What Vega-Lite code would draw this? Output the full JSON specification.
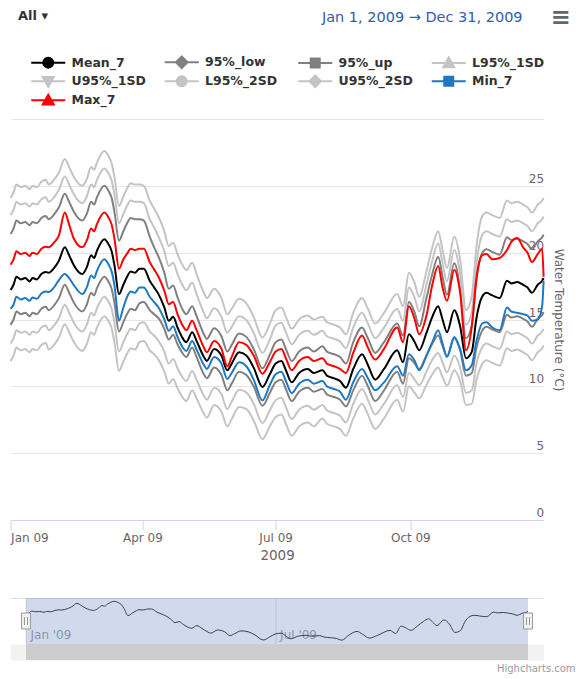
{
  "$schema": "https://vega.github.io/schema/vega-lite/v6.json",
  "padding": {"left": 6.6, "right": 0, "top": 3, "bottom": 0},
  "background": "#ffffff",
  "title": {"text": "≡", "anchor": "end", "frame": "bounds", "offset": -27, "dx": -5, "font": "DejaVu Sans", "fontSize": 24, "fontWeight": "bold", "color": "#666666"},
  "config": {"view": {"stroke": null}, "font": "DejaVu Sans",
    "legend": {"title": "All ▾", "orient": "none", "legendX": 0.4, "legendY": -116, "direction": "horizontal", "columns": 4, "gridAlign": "all", "columnPadding": 5.5, "rowPadding": -1,
      "symbolSize": 100, "symbolStrokeWidth": 2, "symbolOffset": 36, "labelOffset": 5, "labelFont": "DejaVu Sans", "labelFontSize": 12.5, "labelFontWeight": "bold", "labelColor": "#333333", "labelLimit": 200,
      "titleFont": "DejaVu Sans", "titleFontSize": 13, "titleFontWeight": "bold", "titleColor": "#333333", "titlePadding": 33, "padding": 7}},
  "spacing": 35,
  "resolve": {"scale": {"x": "independent", "y": "independent"}},
  "datasets": {
    "range": [{"start": "2009-01-01", "end": "2009-12-31"}],
    "temps": [
      {"d":"2009-01-01","Mean_7":17.2,"Max_7":19.1,"Min_7":15.8,"95%_low":14.6,"95%_up":21.4,"L95%_1SD":13.2,"U95%_1SD":22.8,"L95%_2SD":11.9,"U95%_2SD":24.1},
      {"d":"2009-01-03","Mean_7":17.6,"Max_7":19.5,"Min_7":16.1,"95%_low":15.0,"95%_up":21.8,"L95%_1SD":13.6,"U95%_1SD":23.2,"L95%_2SD":12.3,"U95%_2SD":24.5},
      {"d":"2009-01-05","Mean_7":18.2,"Max_7":20.1,"Min_7":16.7,"95%_low":15.6,"95%_up":22.4,"L95%_1SD":14.2,"U95%_1SD":23.8,"L95%_2SD":12.9,"U95%_2SD":25.1},
      {"d":"2009-01-08","Mean_7":18.0,"Max_7":19.9,"Min_7":16.5,"95%_low":15.4,"95%_up":22.2,"L95%_1SD":14.0,"U95%_1SD":23.6,"L95%_2SD":12.7,"U95%_2SD":24.9},
      {"d":"2009-01-11","Mean_7":18.1,"Max_7":20.0,"Min_7":16.6,"95%_low":15.5,"95%_up":22.3,"L95%_1SD":14.1,"U95%_1SD":23.7,"L95%_2SD":12.8,"U95%_2SD":25.0},
      {"d":"2009-01-14","Mean_7":17.85,"Max_7":19.75,"Min_7":16.4,"95%_low":15.25,"95%_up":22.05,"L95%_1SD":13.85,"U95%_1SD":23.45,"L95%_2SD":12.55,"U95%_2SD":24.75},
      {"d":"2009-01-16","Mean_7":18.1,"Max_7":20.0,"Min_7":16.65,"95%_low":15.5,"95%_up":22.3,"L95%_1SD":14.1,"U95%_1SD":23.7,"L95%_2SD":12.8,"U95%_2SD":25.0},
      {"d":"2009-01-19","Mean_7":18.0,"Max_7":19.9,"Min_7":16.55,"95%_low":15.4,"95%_up":22.2,"L95%_1SD":14.0,"U95%_1SD":23.6,"L95%_2SD":12.7,"U95%_2SD":24.9},
      {"d":"2009-01-22","Mean_7":18.4,"Max_7":20.3,"Min_7":16.95,"95%_low":15.8,"95%_up":22.6,"L95%_1SD":14.4,"U95%_1SD":24.0,"L95%_2SD":13.1,"U95%_2SD":25.3},
      {"d":"2009-01-25","Mean_7":18.55,"Max_7":20.45,"Min_7":17.1,"95%_low":15.95,"95%_up":22.75,"L95%_1SD":14.55,"U95%_1SD":24.15,"L95%_2SD":13.25,"U95%_2SD":25.45},
      {"d":"2009-01-27","Mean_7":18.5,"Max_7":20.4,"Min_7":17.05,"95%_low":15.7,"95%_up":22.5,"L95%_1SD":14.2,"U95%_1SD":23.8,"L95%_2SD":12.75,"U95%_2SD":25.1},
      {"d":"2009-01-31","Mean_7":18.9,"Max_7":20.8,"Min_7":17.45,"95%_low":16.1,"95%_up":22.9,"L95%_1SD":14.6,"U95%_1SD":24.2,"L95%_2SD":13.15,"U95%_2SD":25.5},
      {"d":"2009-02-03","Mean_7":19.4,"Max_7":21.3,"Min_7":17.95,"95%_low":16.6,"95%_up":23.4,"L95%_1SD":15.1,"U95%_1SD":24.7,"L95%_2SD":13.65,"U95%_2SD":26.0},
      {"d":"2009-02-07","Mean_7":20.4,"Max_7":23.0,"Min_7":18.4,"95%_low":17.6,"95%_up":24.4,"L95%_1SD":16.1,"U95%_1SD":25.7,"L95%_2SD":14.65,"U95%_2SD":27.0},
      {"d":"2009-02-10","Mean_7":19.8,"Max_7":22.1,"Min_7":18.1,"95%_low":17.0,"95%_up":23.8,"L95%_1SD":15.5,"U95%_1SD":25.1,"L95%_2SD":14.05,"U95%_2SD":26.4},
      {"d":"2009-02-13","Mean_7":19.1,"Max_7":21.1,"Min_7":17.6,"95%_low":16.3,"95%_up":23.1,"L95%_1SD":14.8,"U95%_1SD":24.4,"L95%_2SD":13.35,"U95%_2SD":25.7},
      {"d":"2009-02-19","Mean_7":18.4,"Max_7":20.4,"Min_7":16.9,"95%_low":15.6,"95%_up":22.4,"L95%_1SD":14.1,"U95%_1SD":23.7,"L95%_2SD":12.65,"U95%_2SD":25.0},
      {"d":"2009-02-22","Mean_7":18.9,"Max_7":20.9,"Min_7":17.4,"95%_low":16.1,"95%_up":22.9,"L95%_1SD":14.6,"U95%_1SD":24.2,"L95%_2SD":13.15,"U95%_2SD":25.5},
      {"d":"2009-02-25","Mean_7":19.8,"Max_7":21.8,"Min_7":18.3,"95%_low":17.0,"95%_up":23.8,"L95%_1SD":15.5,"U95%_1SD":25.1,"L95%_2SD":14.05,"U95%_2SD":26.4},
      {"d":"2009-02-27","Mean_7":19.6,"Max_7":21.6,"Min_7":18.1,"95%_low":16.8,"95%_up":23.6,"L95%_1SD":15.3,"U95%_1SD":24.9,"L95%_2SD":13.85,"U95%_2SD":26.2},
      {"d":"2009-03-01","Mean_7":20.15,"Max_7":22.15,"Min_7":18.65,"95%_low":17.35,"95%_up":24.15,"L95%_1SD":15.85,"U95%_1SD":25.45,"L95%_2SD":14.4,"U95%_2SD":26.75},
      {"d":"2009-03-06","Mean_7":21.0,"Max_7":23.0,"Min_7":19.5,"95%_low":18.2,"95%_up":25.0,"L95%_1SD":16.7,"U95%_1SD":26.3,"L95%_2SD":15.25,"U95%_2SD":27.6},
      {"d":"2009-03-09","Mean_7":20.6,"Max_7":22.6,"Min_7":19.1,"95%_low":17.8,"95%_up":24.6,"L95%_1SD":16.3,"U95%_1SD":25.9,"L95%_2SD":14.85,"U95%_2SD":27.2},
      {"d":"2009-03-11","Mean_7":20.1,"Max_7":22.1,"Min_7":18.6,"95%_low":17.3,"95%_up":24.1,"L95%_1SD":15.8,"U95%_1SD":25.4,"L95%_2SD":14.35,"U95%_2SD":26.7},
      {"d":"2009-03-13","Mean_7":19.0,"Max_7":21.0,"Min_7":17.5,"95%_low":16.2,"95%_up":23.0,"L95%_1SD":14.7,"U95%_1SD":24.3,"L95%_2SD":13.25,"U95%_2SD":25.6},
      {"d":"2009-03-16","Mean_7":16.9,"Max_7":18.8,"Min_7":14.9,"95%_low":14.1,"95%_up":20.9,"L95%_1SD":12.6,"U95%_1SD":22.2,"L95%_2SD":11.15,"U95%_2SD":23.5},
      {"d":"2009-03-19","Mean_7":17.6,"Max_7":19.5,"Min_7":15.9,"95%_low":14.8,"95%_up":21.6,"L95%_1SD":13.3,"U95%_1SD":22.9,"L95%_2SD":11.85,"U95%_2SD":24.2},
      {"d":"2009-03-22","Mean_7":18.3,"Max_7":20.0,"Min_7":16.8,"95%_low":15.5,"95%_up":22.3,"L95%_1SD":14.0,"U95%_1SD":23.6,"L95%_2SD":12.55,"U95%_2SD":24.9},
      {"d":"2009-03-24","Mean_7":18.6,"Max_7":20.3,"Min_7":17.1,"95%_low":15.8,"95%_up":22.6,"L95%_1SD":14.3,"U95%_1SD":23.9,"L95%_2SD":12.85,"U95%_2SD":25.2},
      {"d":"2009-03-27","Mean_7":18.5,"Max_7":20.2,"Min_7":17.0,"95%_low":15.7,"95%_up":22.5,"L95%_1SD":14.2,"U95%_1SD":23.8,"L95%_2SD":12.75,"U95%_2SD":25.1},
      {"d":"2009-03-30","Mean_7":18.8,"Max_7":20.3,"Min_7":17.4,"95%_low":16.2,"95%_up":22.5,"L95%_1SD":14.7,"U95%_1SD":23.8,"L95%_2SD":13.3,"U95%_2SD":25.1},
      {"d":"2009-04-02","Mean_7":18.8,"Max_7":20.3,"Min_7":17.4,"95%_low":16.3,"95%_up":22.4,"L95%_1SD":14.8,"U95%_1SD":23.7,"L95%_2SD":13.4,"U95%_2SD":25.0},
      {"d":"2009-04-06","Mean_7":17.9,"Max_7":19.3,"Min_7":16.7,"95%_low":15.7,"95%_up":21.2,"L95%_1SD":14.1,"U95%_1SD":22.5,"L95%_2SD":12.7,"U95%_2SD":23.9},
      {"d":"2009-04-09","Mean_7":17.4,"Max_7":18.75,"Min_7":16.3,"95%_low":15.4,"95%_up":20.4,"L95%_1SD":13.8,"U95%_1SD":21.9,"L95%_2SD":12.4,"U95%_2SD":23.3},
      {"d":"2009-04-12","Mean_7":16.9,"Max_7":18.2,"Min_7":15.9,"95%_low":15.1,"95%_up":19.7,"L95%_1SD":13.4,"U95%_1SD":21.2,"L95%_2SD":12.0,"U95%_2SD":22.7},
      {"d":"2009-04-16","Mean_7":15.9,"Max_7":17.15,"Min_7":15.0,"95%_low":14.3,"95%_up":18.5,"L95%_1SD":12.6,"U95%_1SD":20.1,"L95%_2SD":11.1,"U95%_2SD":21.6},
      {"d":"2009-04-19","Mean_7":14.9,"Max_7":16.15,"Min_7":14.15,"95%_low":13.5,"95%_up":17.3,"L95%_1SD":11.7,"U95%_1SD":19.0,"L95%_2SD":10.2,"U95%_2SD":20.5},
      {"d":"2009-04-22","Mean_7":15.2,"Max_7":16.3,"Min_7":14.5,"95%_low":13.85,"95%_up":17.55,"L95%_1SD":12.05,"U95%_1SD":19.25,"L95%_2SD":10.55,"U95%_2SD":20.75},
      {"d":"2009-04-25","Mean_7":14.4,"Max_7":15.4,"Min_7":13.7,"95%_low":13.15,"95%_up":16.65,"L95%_1SD":11.35,"U95%_1SD":18.4,"L95%_2SD":9.85,"U95%_2SD":19.9},
      {"d":"2009-04-28","Mean_7":13.7,"Max_7":14.65,"Min_7":13.0,"95%_low":12.55,"95%_up":15.85,"L95%_1SD":10.75,"U95%_1SD":17.65,"L95%_2SD":9.25,"U95%_2SD":19.15},
      {"d":"2009-05-01","Mean_7":13.3,"Max_7":14.2,"Min_7":12.65,"95%_low":12.2,"95%_up":15.4,"L95%_1SD":10.4,"U95%_1SD":17.2,"L95%_2SD":8.9,"U95%_2SD":18.7},
      {"d":"2009-05-05","Mean_7":14.05,"Max_7":14.9,"Min_7":13.4,"95%_low":12.9,"95%_up":16.0,"L95%_1SD":11.15,"U95%_1SD":17.75,"L95%_2SD":9.7,"U95%_2SD":19.25},
      {"d":"2009-05-08","Mean_7":13.4,"Max_7":14.2,"Min_7":12.75,"95%_low":12.2,"95%_up":15.25,"L95%_1SD":10.5,"U95%_1SD":16.9,"L95%_2SD":9.1,"U95%_2SD":18.4},
      {"d":"2009-05-13","Mean_7":12.2,"Max_7":12.9,"Min_7":11.6,"95%_low":10.9,"95%_up":13.9,"L95%_1SD":9.3,"U95%_1SD":15.5,"L95%_2SD":7.95,"U95%_2SD":17.0},
      {"d":"2009-05-15","Mean_7":11.9,"Max_7":12.55,"Min_7":11.3,"95%_low":10.6,"95%_up":13.55,"L95%_1SD":9.0,"U95%_1SD":15.1,"L95%_2SD":7.65,"U95%_2SD":16.6},
      {"d":"2009-05-20","Mean_7":12.8,"Max_7":13.4,"Min_7":12.2,"95%_low":11.4,"95%_up":14.35,"L95%_1SD":9.9,"U95%_1SD":15.85,"L95%_2SD":8.6,"U95%_2SD":17.3},
      {"d":"2009-05-25","Mean_7":12.3,"Max_7":12.8,"Min_7":11.7,"95%_low":10.85,"95%_up":13.75,"L95%_1SD":9.4,"U95%_1SD":15.2,"L95%_2SD":8.1,"U95%_2SD":16.6},
      {"d":"2009-05-29","Mean_7":11.2,"Max_7":11.5,"Min_7":10.55,"95%_low":9.7,"95%_up":12.6,"L95%_1SD":8.3,"U95%_1SD":14.0,"L95%_2SD":7.0,"U95%_2SD":15.4},
      {"d":"2009-06-01","Mean_7":11.7,"Max_7":12.2,"Min_7":11.0,"95%_low":10.2,"95%_up":13.1,"L95%_1SD":8.85,"U95%_1SD":14.45,"L95%_2SD":7.55,"U95%_2SD":15.8},
      {"d":"2009-06-06","Mean_7":12.55,"Max_7":13.3,"Min_7":11.8,"95%_low":11.1,"95%_up":13.95,"L95%_1SD":9.75,"U95%_1SD":15.25,"L95%_2SD":8.45,"U95%_2SD":16.55},
      {"d":"2009-06-11","Mean_7":12.3,"Max_7":13.1,"Min_7":11.5,"95%_low":10.85,"95%_up":13.7,"L95%_1SD":9.55,"U95%_1SD":14.95,"L95%_2SD":8.3,"U95%_2SD":16.2},
      {"d":"2009-06-16","Mean_7":11.4,"Max_7":12.3,"Min_7":10.5,"95%_low":10.0,"95%_up":12.8,"L95%_1SD":8.7,"U95%_1SD":14.0,"L95%_2SD":7.45,"U95%_2SD":15.2},
      {"d":"2009-06-22","Mean_7":9.95,"Max_7":10.95,"Min_7":8.95,"95%_low":8.55,"95%_up":11.35,"L95%_1SD":7.25,"U95%_1SD":12.5,"L95%_2SD":6.05,"U95%_2SD":13.65},
      {"d":"2009-06-27","Mean_7":10.9,"Max_7":11.8,"Min_7":10.1,"95%_low":9.5,"95%_up":12.35,"L95%_1SD":8.2,"U95%_1SD":13.5,"L95%_2SD":7.0,"U95%_2SD":14.65},
      {"d":"2009-07-01","Mean_7":11.7,"Max_7":12.6,"Min_7":10.9,"95%_low":10.3,"95%_up":13.3,"L95%_1SD":8.95,"U95%_1SD":14.55,"L95%_2SD":7.7,"U95%_2SD":15.7},
      {"d":"2009-07-05","Mean_7":11.9,"Max_7":12.8,"Min_7":11.1,"95%_low":10.5,"95%_up":13.5,"L95%_1SD":9.15,"U95%_1SD":14.75,"L95%_2SD":7.9,"U95%_2SD":15.9},
      {"d":"2009-07-08","Mean_7":11.2,"Max_7":12.1,"Min_7":10.4,"95%_low":9.8,"95%_up":12.8,"L95%_1SD":8.45,"U95%_1SD":14.05,"L95%_2SD":7.2,"U95%_2SD":15.2},
      {"d":"2009-07-12","Mean_7":10.3,"Max_7":11.2,"Min_7":9.5,"95%_low":8.9,"95%_up":11.9,"L95%_1SD":7.55,"U95%_1SD":13.15,"L95%_2SD":6.3,"U95%_2SD":14.3},
      {"d":"2009-07-17","Mean_7":11.0,"Max_7":11.9,"Min_7":10.2,"95%_low":9.6,"95%_up":12.6,"L95%_1SD":8.25,"U95%_1SD":13.85,"L95%_2SD":7.0,"U95%_2SD":15.0},
      {"d":"2009-07-23","Mean_7":11.3,"Max_7":12.2,"Min_7":10.5,"95%_low":9.9,"95%_up":12.9,"L95%_1SD":8.55,"U95%_1SD":14.15,"L95%_2SD":7.3,"U95%_2SD":15.3},
      {"d":"2009-07-27","Mean_7":11.0,"Max_7":11.9,"Min_7":10.2,"95%_low":9.6,"95%_up":12.6,"L95%_1SD":8.25,"U95%_1SD":13.85,"L95%_2SD":7.0,"U95%_2SD":15.0},
      {"d":"2009-08-02","Mean_7":11.2,"Max_7":12.1,"Min_7":10.4,"95%_low":9.8,"95%_up":13.0,"L95%_1SD":8.6,"U95%_1SD":14.15,"L95%_2SD":7.6,"U95%_2SD":15.2},
      {"d":"2009-08-05","Mean_7":10.8,"Max_7":11.7,"Min_7":10.0,"95%_low":9.4,"95%_up":12.6,"L95%_1SD":8.2,"U95%_1SD":13.75,"L95%_2SD":7.2,"U95%_2SD":14.8},
      {"d":"2009-08-10","Mean_7":10.6,"Max_7":11.5,"Min_7":9.8,"95%_low":9.2,"95%_up":12.4,"L95%_1SD":8.0,"U95%_1SD":13.55,"L95%_2SD":7.0,"U95%_2SD":14.6},
      {"d":"2009-08-14","Mean_7":10.4,"Max_7":11.3,"Min_7":9.6,"95%_low":9.0,"95%_up":12.2,"L95%_1SD":7.8,"U95%_1SD":13.35,"L95%_2SD":6.8,"U95%_2SD":14.4},
      {"d":"2009-08-18","Mean_7":9.9,"Max_7":11.0,"Min_7":9.0,"95%_low":8.5,"95%_up":11.7,"L95%_1SD":7.3,"U95%_1SD":12.85,"L95%_2SD":6.3,"U95%_2SD":13.9},
      {"d":"2009-08-23","Mean_7":11.3,"Max_7":12.5,"Min_7":10.3,"95%_low":9.7,"95%_up":13.3,"L95%_1SD":8.7,"U95%_1SD":14.4,"L95%_2SD":7.6,"U95%_2SD":15.5},
      {"d":"2009-08-29","Mean_7":12.4,"Max_7":13.8,"Min_7":11.3,"95%_low":10.8,"95%_up":14.4,"L95%_1SD":9.8,"U95%_1SD":15.5,"L95%_2SD":8.7,"U95%_2SD":16.6},
      {"d":"2009-09-02","Mean_7":11.6,"Max_7":12.9,"Min_7":10.6,"95%_low":10.0,"95%_up":13.6,"L95%_1SD":9.0,"U95%_1SD":14.7,"L95%_2SD":7.9,"U95%_2SD":15.8},
      {"d":"2009-09-07","Mean_7":10.5,"Max_7":12.0,"Min_7":9.7,"95%_low":8.9,"95%_up":12.5,"L95%_1SD":7.9,"U95%_1SD":13.6,"L95%_2SD":6.8,"U95%_2SD":14.7},
      {"d":"2009-09-13","Mean_7":11.3,"Max_7":12.8,"Min_7":10.3,"95%_low":9.7,"95%_up":13.3,"L95%_1SD":8.7,"U95%_1SD":14.4,"L95%_2SD":7.6,"U95%_2SD":15.5},
      {"d":"2009-09-22","Mean_7":12.7,"Max_7":14.4,"Min_7":11.5,"95%_low":11.1,"95%_up":14.7,"L95%_1SD":10.1,"U95%_1SD":15.8,"L95%_2SD":9.0,"U95%_2SD":16.9},
      {"d":"2009-09-26","Mean_7":11.8,"Max_7":13.3,"Min_7":10.8,"95%_low":10.2,"95%_up":13.8,"L95%_1SD":9.2,"U95%_1SD":14.9,"L95%_2SD":8.1,"U95%_2SD":16.0},
      {"d":"2009-09-30","Mean_7":13.9,"Max_7":16.0,"Min_7":12.4,"95%_low":12.1,"95%_up":16.3,"L95%_1SD":11.0,"U95%_1SD":17.4,"L95%_2SD":10.0,"U95%_2SD":18.5},
      {"d":"2009-10-04","Mean_7":13.3,"Max_7":15.0,"Min_7":11.9,"95%_low":11.7,"95%_up":15.5,"L95%_1SD":10.5,"U95%_1SD":16.6,"L95%_2SD":9.5,"U95%_2SD":17.7},
      {"d":"2009-10-07","Mean_7":12.7,"Max_7":13.9,"Min_7":11.2,"95%_low":11.3,"95%_up":14.5,"L95%_1SD":10.1,"U95%_1SD":15.6,"L95%_2SD":9.1,"U95%_2SD":16.7},
      {"d":"2009-10-12","Mean_7":14.0,"Max_7":15.3,"Min_7":12.3,"95%_low":12.3,"95%_up":16.6,"L95%_1SD":11.1,"U95%_1SD":17.6,"L95%_2SD":10.1,"U95%_2SD":18.6},
      {"d":"2009-10-16","Mean_7":15.2,"Max_7":17.6,"Min_7":13.3,"95%_low":13.2,"95%_up":18.4,"L95%_1SD":12.0,"U95%_1SD":19.4,"L95%_2SD":10.9,"U95%_2SD":20.4},
      {"d":"2009-10-20","Mean_7":16.0,"Max_7":19.0,"Min_7":14.2,"95%_low":13.8,"95%_up":19.7,"L95%_1SD":12.5,"U95%_1SD":20.7,"L95%_2SD":11.4,"U95%_2SD":21.6},
      {"d":"2009-10-23","Mean_7":15.0,"Max_7":17.4,"Min_7":13.2,"95%_low":13.0,"95%_up":18.2,"L95%_1SD":11.8,"U95%_1SD":19.2,"L95%_2SD":10.7,"U95%_2SD":20.2},
      {"d":"2009-10-26","Mean_7":14.05,"Max_7":16.4,"Min_7":12.2,"95%_low":12.25,"95%_up":16.85,"L95%_1SD":11.05,"U95%_1SD":17.85,"L95%_2SD":10.05,"U95%_2SD":18.85},
      {"d":"2009-10-31","Mean_7":15.7,"Max_7":18.7,"Min_7":13.7,"95%_low":13.6,"95%_up":19.2,"L95%_1SD":12.3,"U95%_1SD":20.2,"L95%_2SD":11.2,"U95%_2SD":21.2},
      {"d":"2009-11-04","Mean_7":14.5,"Max_7":17.0,"Min_7":12.8,"95%_low":12.7,"95%_up":17.3,"L95%_1SD":11.4,"U95%_1SD":18.4,"L95%_2SD":10.4,"U95%_2SD":19.5},
      {"d":"2009-11-08","Mean_7":12.1,"Max_7":12.7,"Min_7":11.2,"95%_low":10.8,"95%_up":13.6,"L95%_1SD":9.5,"U95%_1SD":14.6,"L95%_2SD":8.6,"U95%_2SD":15.7},
      {"d":"2009-11-12","Mean_7":12.6,"Max_7":14.5,"Min_7":11.6,"95%_low":11.0,"95%_up":14.6,"L95%_1SD":9.7,"U95%_1SD":15.6,"L95%_2SD":8.7,"U95%_2SD":16.8},
      {"d":"2009-11-15","Mean_7":15.0,"Max_7":18.0,"Min_7":13.3,"95%_low":12.8,"95%_up":17.8,"L95%_1SD":11.6,"U95%_1SD":19.0,"L95%_2SD":10.4,"U95%_2SD":20.3},
      {"d":"2009-11-19","Mean_7":16.7,"Max_7":19.8,"Min_7":14.7,"95%_low":14.15,"95%_up":19.95,"L95%_1SD":12.9,"U95%_1SD":21.3,"L95%_2SD":11.65,"U95%_2SD":22.7},
      {"d":"2009-11-22","Mean_7":17.0,"Max_7":19.9,"Min_7":14.8,"95%_low":14.45,"95%_up":20.25,"L95%_1SD":13.2,"U95%_1SD":21.6,"L95%_2SD":11.95,"U95%_2SD":23.0},
      {"d":"2009-11-26","Mean_7":16.8,"Max_7":19.5,"Min_7":14.4,"95%_low":14.25,"95%_up":20.05,"L95%_1SD":13.0,"U95%_1SD":21.4,"L95%_2SD":11.75,"U95%_2SD":22.8},
      {"d":"2009-12-01","Mean_7":16.6,"Max_7":19.6,"Min_7":14.2,"95%_low":14.05,"95%_up":19.85,"L95%_1SD":12.8,"U95%_1SD":21.2,"L95%_2SD":11.55,"U95%_2SD":22.6},
      {"d":"2009-12-06","Mean_7":17.9,"Max_7":20.2,"Min_7":15.9,"95%_low":15.35,"95%_up":21.15,"L95%_1SD":14.1,"U95%_1SD":22.5,"L95%_2SD":12.85,"U95%_2SD":23.9},
      {"d":"2009-12-09","Mean_7":17.7,"Max_7":20.8,"Min_7":15.6,"95%_low":15.15,"95%_up":20.95,"L95%_1SD":13.9,"U95%_1SD":22.3,"L95%_2SD":12.65,"U95%_2SD":23.7},
      {"d":"2009-12-13","Mean_7":17.8,"Max_7":21.1,"Min_7":15.5,"95%_low":15.25,"95%_up":21.05,"L95%_1SD":14.0,"U95%_1SD":22.4,"L95%_2SD":12.75,"U95%_2SD":23.8},
      {"d":"2009-12-17","Mean_7":17.6,"Max_7":20.4,"Min_7":15.4,"95%_low":15.05,"95%_up":20.85,"L95%_1SD":13.8,"U95%_1SD":22.2,"L95%_2SD":12.55,"U95%_2SD":23.6},
      {"d":"2009-12-20","Mean_7":17.4,"Max_7":20.0,"Min_7":15.3,"95%_low":14.85,"95%_up":20.65,"L95%_1SD":13.6,"U95%_1SD":22.0,"L95%_2SD":12.35,"U95%_2SD":23.4},
      {"d":"2009-12-23","Mean_7":17.0,"Max_7":19.3,"Min_7":14.9,"95%_low":14.45,"95%_up":20.25,"L95%_1SD":13.2,"U95%_1SD":21.6,"L95%_2SD":11.95,"U95%_2SD":23.0},
      {"d":"2009-12-27","Mean_7":17.6,"Max_7":19.9,"Min_7":15.0,"95%_low":15.05,"95%_up":20.85,"L95%_1SD":13.8,"U95%_1SD":22.2,"L95%_2SD":12.55,"U95%_2SD":23.6},
      {"d":"2009-12-30","Mean_7":17.9,"Max_7":20.3,"Min_7":16.0,"95%_low":15.35,"95%_up":21.15,"L95%_1SD":14.1,"U95%_1SD":22.5,"L95%_2SD":12.85,"U95%_2SD":23.9},
      {"d":"2009-12-31","Mean_7":18.1,"Max_7":18.2,"Min_7":17.9,"95%_low":15.55,"95%_up":21.35,"L95%_1SD":14.3,"U95%_1SD":22.7,"L95%_2SD":13.05,"U95%_2SD":24.1}
    ]
  },
  "vconcat": [
    {
      "width": 533,
      "height": 401,
      "title": {"text": "Jan 1, 2009  →  Dec 31, 2009", "anchor": "end", "frame": "group", "dx": -21, "offset": 94, "font": "DejaVu Sans", "fontSize": 14.5, "fontWeight": "normal", "color": "#335cad"},
      "data": {"name": "temps"},
      "transform": [{"fold": ["Mean_7", "95%_low", "95%_up", "L95%_1SD", "U95%_1SD", "L95%_2SD", "U95%_2SD", "Min_7", "Max_7"], "as": ["series", "value"]}],
      "encoding": {
        "x": {"field": "d", "type": "temporal",
          "scale": {"type": "utc", "domain": [{"year": 2009, "month": 1, "date": 1, "utc": true}, {"year": 2009, "month": 12, "date": 31, "utc": true}]},
          "axis": {"values": [{"year": 2009, "month": 1, "date": 1, "utc": true}, {"year": 2009, "month": 4, "date": 1, "utc": true}, {"year": 2009, "month": 7, "date": 1, "utc": true}, {"year": 2009, "month": 10, "date": 1, "utc": true}],
            "format": "%b %y", "grid": false, "domainColor": "#ccd6eb", "tickColor": "#ccd6eb", "tickSize": 10, "labelFlush": true, "labelOverlap": false,
            "labelColor": "#666666", "labelFontSize": 12, "labelFont": "DejaVu Sans", "labelPadding": 3,
            "title": "2009", "titleFontSize": 13.5, "titleFont": "DejaVu Sans", "titleFontWeight": "normal", "titleColor": "#666666", "titlePadding": 5}},
        "y": {"field": "value", "type": "quantitative",
          "scale": {"domain": [0, 30], "nice": false, "zero": false},
          "axis": {"orient": "right", "values": [0, 5, 10, 15, 20, 25, 30], "grid": true, "gridColor": "#e6e6e6", "domain": false, "ticks": false, "tickSize": 0,
            "labelAlign": "right", "labelBaseline": "alphabetic", "labelPadding": 0, "labelOffset": -3.5, "labelColor": "#666666", "labelFontSize": 12, "labelFont": "DejaVu Sans",
            "labelExpr": "datum.value == 30 ? '' : datum.label",
            "title": "Water Temperature (°C)", "titleAngle": 90, "titleFontSize": 12, "titleFont": "DejaVu Sans", "titleFontWeight": "normal", "titleColor": "#666666", "titlePadding": 8}}
      },
      "layer": [
        {
          "mark": {"type": "line", "strokeWidth": 2, "interpolate": "monotone"},
          "encoding": {
            "color": {"field": "series", "type": "nominal", "title": "All ▾",
              "scale": {"domain": ["Mean_7", "95%_low", "95%_up", "L95%_1SD", "U95%_1SD", "L95%_2SD", "U95%_2SD", "Min_7", "Max_7"],
                        "range": ["#000000", "#808080", "#808080", "#c4c4c4", "#c4c4c4", "#c4c4c4", "#c4c4c4", "#1f78c1", "#ff0000"]}}
          }
        },
        {
          "transform": [{"filter": "datum.value < -999"}],
          "mark": {"type": "point", "filled": true, "opacity": 1},
          "encoding": {
            "color": {"field": "series", "type": "nominal", "title": "All ▾"},
            "stroke": {"field": "series", "type": "nominal", "title": "All ▾",
              "scale": {"domain": ["Mean_7", "95%_low", "95%_up", "L95%_1SD", "U95%_1SD", "L95%_2SD", "U95%_2SD", "Min_7", "Max_7"],
                        "range": ["#000000", "#808080", "#808080", "#c4c4c4", "#c4c4c4", "#c4c4c4", "#c4c4c4", "#1f78c1", "#ff0000"]}},
            "shape": {"field": "series", "type": "nominal", "title": "All ▾",
              "scale": {"domain": ["Mean_7", "95%_low", "95%_up", "L95%_1SD", "U95%_1SD", "L95%_2SD", "U95%_2SD", "Min_7", "Max_7"],
                        "range": [
                          "M-5.8,0H1M-3.4,0A1,1,0,1,0,-1.4,0A1,1,0,1,0,-3.4,0Z",
                          "M-5.8,0H1M-2.4,-1.15L-1.25,0L-2.4,1.15L-3.55,0Z",
                          "M-5.8,0H1M-3.3,-0.9H-1.5V0.9H-3.3Z",
                          "M-5.8,0H1M-2.4,-1.1L-1.3,0.85H-3.5Z",
                          "M-5.8,0H1M-2.4,1.1L-1.3,-0.85H-3.5Z",
                          "M-5.8,0H1M-3.4,0A1,1,0,1,0,-1.4,0A1,1,0,1,0,-3.4,0Z",
                          "M-5.8,0H1M-2.4,-1.15L-1.25,0L-2.4,1.15L-3.55,0Z",
                          "M-5.8,0H1M-3.3,-0.9H-1.5V0.9H-3.3Z",
                          "M-5.8,0H1M-2.4,-1.1L-1.3,0.85H-3.5Z"]}}
          }
        }
      ]
    },
    {
      "width": 533,
      "height": 62,
      "title": {"text": "Highcharts.com", "orient": "bottom", "anchor": "end", "frame": "group", "dx": 32, "offset": 4, "font": "DejaVu Sans", "fontSize": 10, "fontWeight": "normal", "color": "#999999"},
      "layer": [
        {
          "data": {"name": "range"},
          "mark": {"type": "rect", "color": "#6685c2", "opacity": 0.3},
          "encoding": {
            "x": {"field": "start", "type": "temporal",
              "scale": {"type": "utc", "domain": [{"year": 2008, "month": 12, "date": 20, "hours": 20, "utc": true}, {"year": 2010, "month": 1, "date": 11, "hours": 7, "minutes": 30, "utc": true}]},
              "axis": {"orient": "bottom", "offset": -8, "values": [{"year": 2009, "month": 1, "date": 1, "utc": true}, {"year": 2009, "month": 7, "date": 1, "utc": true}],
                "format": "%b '%y", "grid": true, "gridColor": "#e0e0e0", "ticks": false, "tickSize": 0, "domain": true, "domainColor": "#f2f2f2", "domainWidth": 16,
                "labelAlign": "left", "labelBaseline": "alphabetic", "labelPadding": -13, "labelOffset": 4, "labelColor": "#999999", "labelFontSize": 12, "labelFont": "DejaVu Sans",
                "labelFlush": false, "labelOverlap": false, "title": null}},
            "x2": {"field": "end"},
            "y": {"datum": 21.94, "type": "quantitative",
              "scale": {"domain": [4.24, 21.94], "nice": false, "zero": false},
              "axis": {"values": [21.94], "grid": true, "gridColor": "#dddddd", "labels": false, "ticks": false, "domain": false, "title": null}},
            "y2": {"datum": 8.81}
          }
        },
        {
          "data": {"name": "range"},
          "mark": {"type": "rect", "color": "#cccccc"},
          "encoding": {
            "x": {"field": "start", "type": "temporal"},
            "x2": {"field": "end"},
            "y": {"datum": 8.81, "type": "quantitative"},
            "y2": {"datum": 4.24}
          }
        },
        {
          "data": {"name": "temps"},
          "mark": {"type": "line", "color": "#3a3f4a", "strokeWidth": 1, "interpolate": "monotone"},
          "encoding": {
            "x": {"field": "d", "type": "temporal"},
            "y": {"field": "Mean_7", "type": "quantitative"}
          }
        },
        {
          "data": {"name": "range"},
          "transform": [{"fold": ["start", "end"], "as": ["edge", "t"]}],
          "mark": {"type": "point", "shape": "M-0.56,-1H0.56V1H-0.56ZM-0.19,-0.5V0.5M0.19,-0.5V0.5", "size": 256, "filled": true, "fill": "#f2f2f2", "stroke": "#999999", "strokeWidth": 1, "opacity": 1},
          "encoding": {
            "x": {"field": "t", "type": "temporal"},
            "y": {"datum": 15.37, "type": "quantitative"}
          }
        }
      ]
    }
  ]
}
